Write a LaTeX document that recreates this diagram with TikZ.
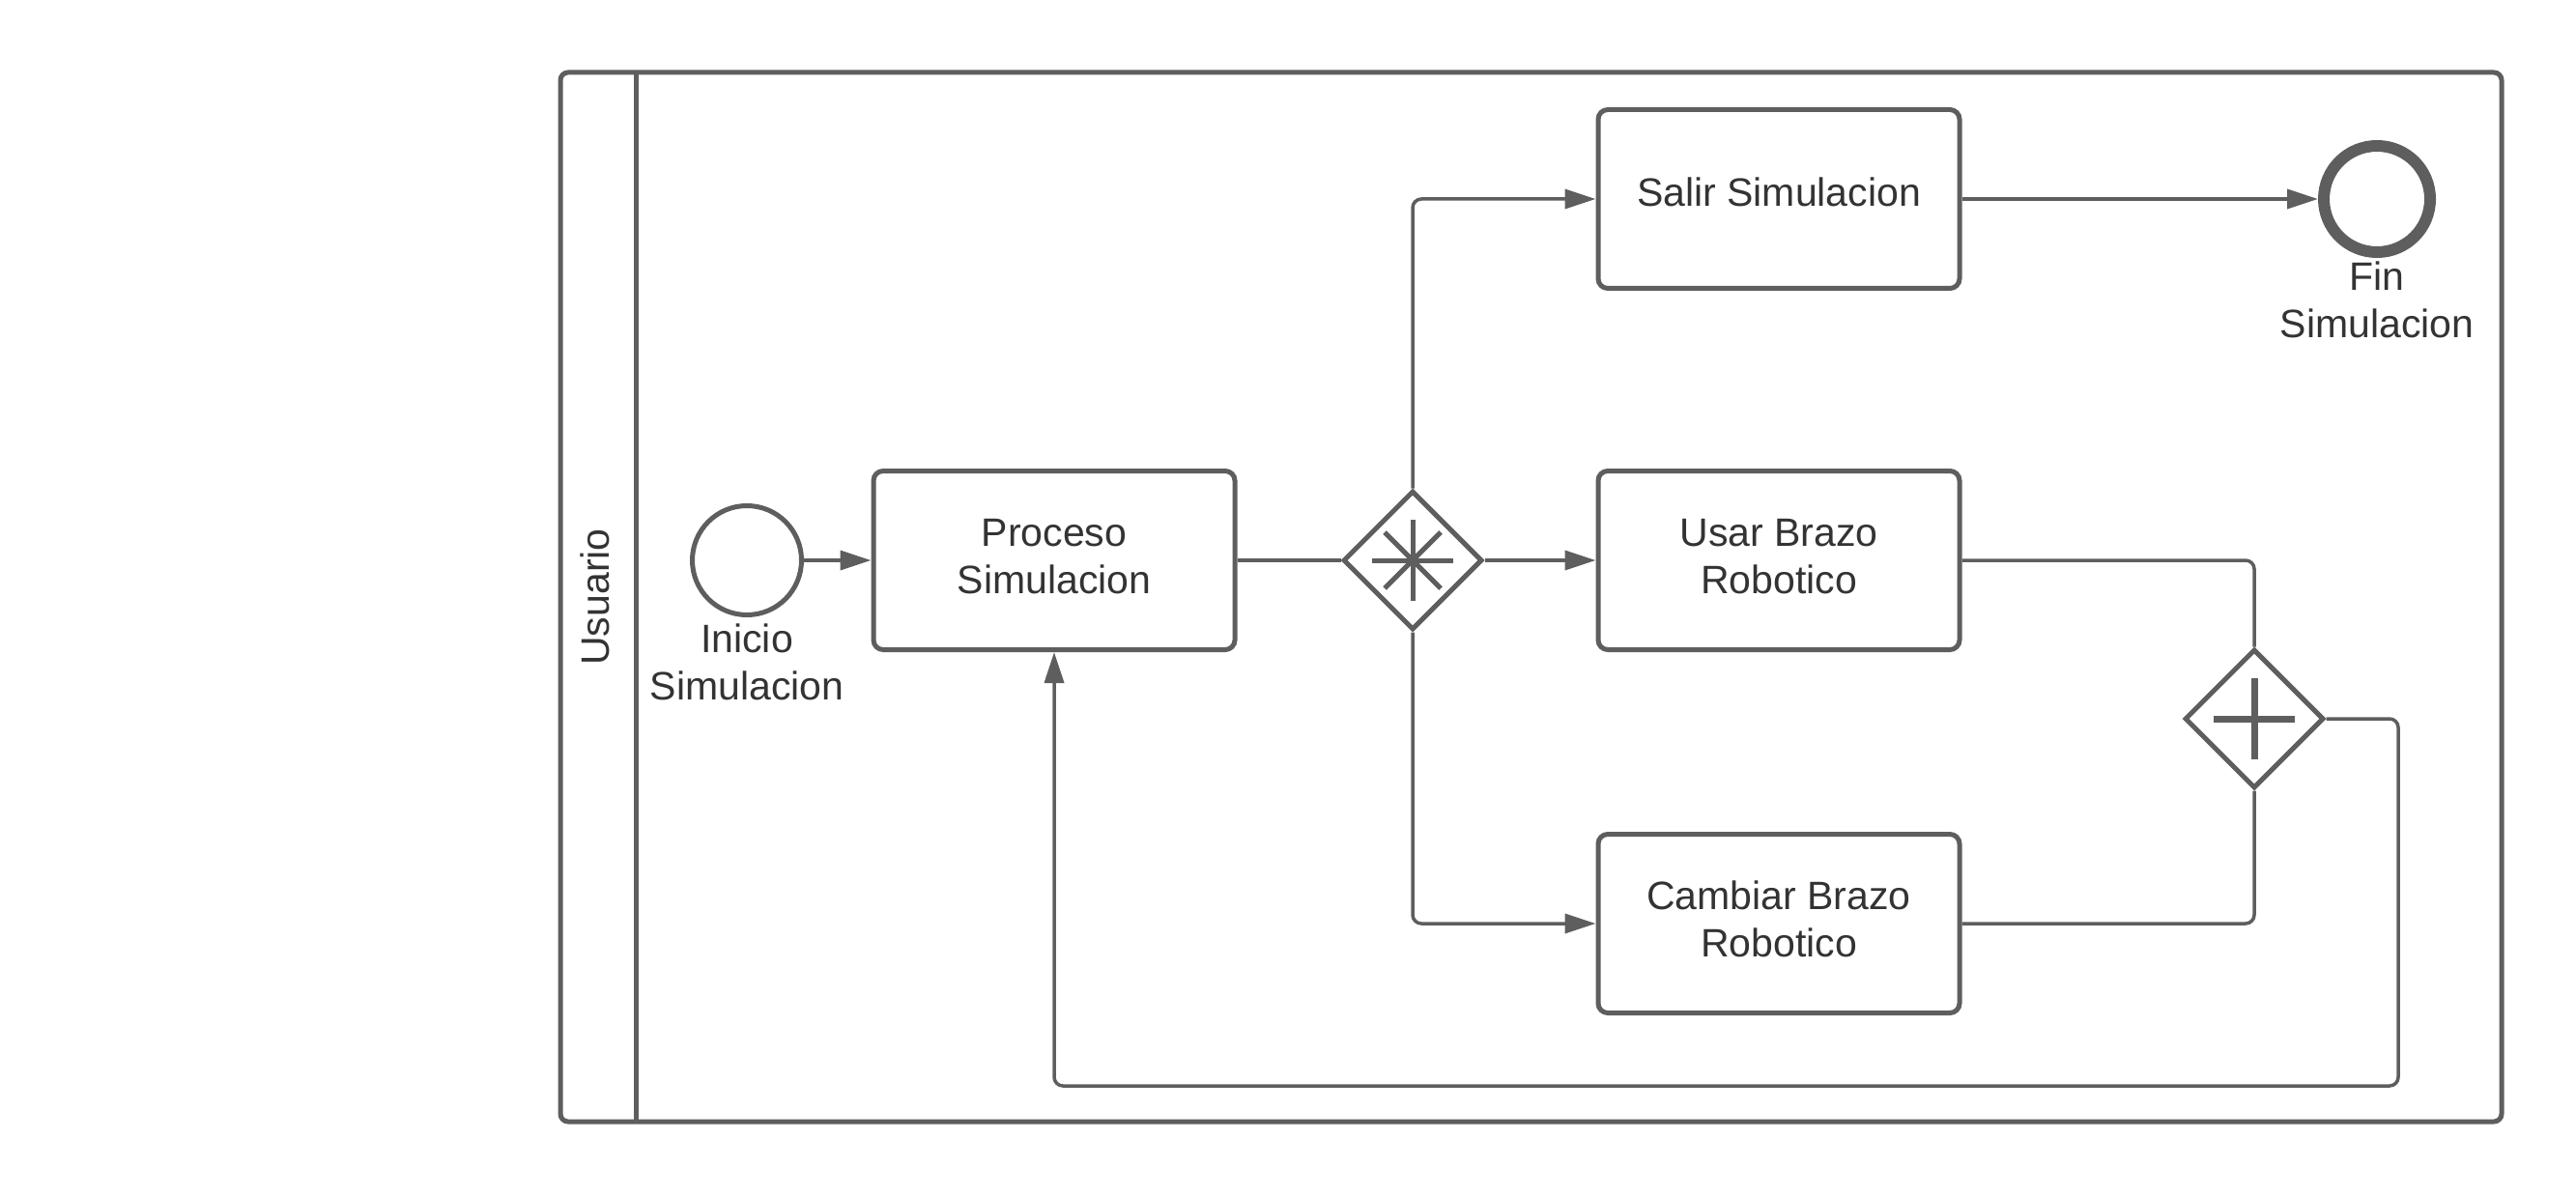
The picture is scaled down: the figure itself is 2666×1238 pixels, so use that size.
\documentclass[tikz,border=0pt]{standalone}
\usepackage{fontspec}
\setmainfont{Liberation Sans}
\usetikzlibrary{arrows.meta,shapes.geometric,calc}
\definecolor{ln}{HTML}{5E5E5E}
\definecolor{tx}{HTML}{333333}
\tikzset{
  task/.style={draw=ln, line width=5pt, rounded corners=10pt, minimum width=374pt, minimum height=185pt, inner sep=0pt, align=center, text=tx, font=\fontsize{41}{49}\selectfont},
  gate/.style={draw=ln, line width=5pt, diamond, aspect=1, minimum width=144pt, minimum height=144pt, inner sep=0pt},
  conn/.style={draw=ln, line width=3.5pt, rounded corners=9pt},
  arr/.style={conn, -{Triangle[length=32pt,width=20pt]}},
  lbl/.style={text=tx, align=center, font=\fontsize{41}{49}\selectfont, inner sep=0pt},
  gmark/.style={draw=ln, line width=5pt},
}
\begin{document}
\begin{tikzpicture}[x=1pt,y=-1pt]
\useasboundingbox (0,0) rectangle (2666,1238);
% pool
\draw[draw=ln, line width=5pt, rounded corners=8pt] (580,75) rectangle (2589,1161);
\draw[draw=ln, line width=5pt] (658,75) -- (658,1161);
\node[lbl, rotate=90] (usuario) at (616,618) {Usuario};
% events
\node[circle, draw=ln, line width=5pt, minimum size=113pt, inner sep=0pt] (start) at (773,580) {};
\node[lbl] (startlbl) at (773,685) {Inicio\\Simulacion};
\node[circle, draw=ln, line width=12pt, minimum size=110pt, inner sep=0pt] (end) at (2460,206) {};
\node[lbl] (endlbl) at (2460,310) {Fin\\Simulacion};
% tasks
\node[task] (proc) at (1091,580) {\raisebox{6pt}{\begin{tabular}{@{}c@{}}Proceso\\Simulacion\end{tabular}}};
\node[task] (salir) at (1841,206) {\raisebox{14pt}{Salir Simulacion}};
\node[task] (usar) at (1841,580) {\raisebox{6pt}{\begin{tabular}{@{}c@{}}Usar Brazo\\Robotico\end{tabular}}};
\node[task] (camb) at (1841,956) {\raisebox{6pt}{\begin{tabular}{@{}c@{}}Cambiar Brazo\\Robotico\end{tabular}}};
% gateways
\node[gate] (g1) at (1462,580) {};
\draw[gmark] ($(g1)+(-42,0)$) -- ($(g1)+(42,0)$);
\draw[gmark] ($(g1)+(0,-42)$) -- ($(g1)+(0,42)$);
\draw[gmark] ($(g1)+(-29,-29)$) -- ($(g1)+(29,29)$);
\draw[gmark] ($(g1)+(-29,29)$) -- ($(g1)+(29,-29)$);
\node[gate] (g2) at (2333,744) {};
\draw[draw=ln, line width=7pt] ($(g2)+(-42,0)$) -- ($(g2)+(42,0)$);
\draw[draw=ln, line width=7pt] ($(g2)+(0,-42)$) -- ($(g2)+(0,42)$);
% connectors
\coordinate (r1) at (2482,1124);
\draw[arr] (start) -- (proc);
\draw[conn] (proc) -- (g1);
\draw[arr] (g1) -- (usar);
\draw[arr] (g1.north) |- (salir.west);
\draw[arr] (g1.south) |- (camb.west);
\draw[arr] (salir) -- (end);
\draw[conn] (usar.east) -| (g2.north);
\draw[conn] (camb.east) -| (g2.south);
\draw[arr] (g2.east) -| (r1) -| (proc.south);
\end{tikzpicture}
\end{document}
